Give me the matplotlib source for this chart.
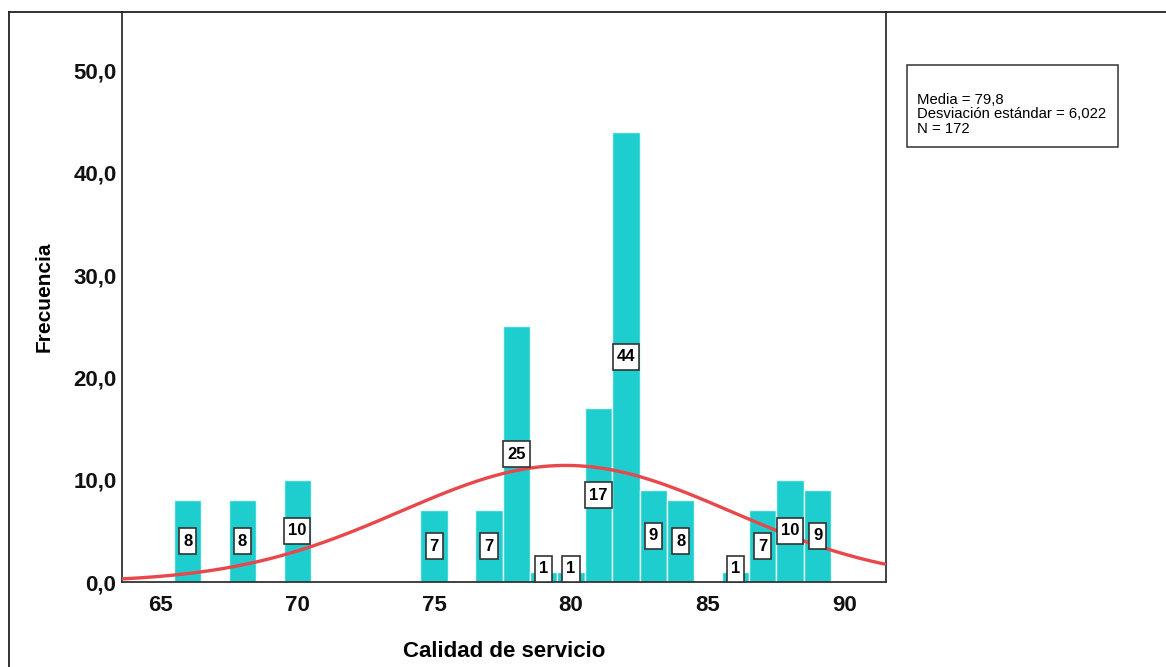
import numpy as np
import matplotlib.pyplot as plt
from matplotlib.lines import Line2D
from matplotlib.patches import Rectangle
from matplotlib.transforms import IdentityTransform

plt.rcParams['font.family'] = ['Liberation Sans', 'DejaVu Sans']

# puntaje de calidad de servicio y su frecuencia
valores = [66, 68, 70, 75, 77, 78, 79, 80, 81, 82, 83, 84, 86, 87, 88, 89]
frecuencias = [8, 8, 10, 7, 7, 25, 1, 1, 17, 44, 9, 8, 1, 7, 10, 9]
media = 79.8
desv = 6.022
n = 172
y_ticks = [0, 10, 20, 30, 40, 50]
x_ticks = [65, 70, 75, 80, 85, 90]

fig = plt.figure(figsize=(11.66, 6.67), dpi=100)
ax = fig.add_axes([0.1046, 0.1274, 0.6553, 0.8546])

ax.bar(valores, frecuencias, width=1.0, color='#1ECECE',
       edgecolor='#E8FAFA', linewidth=1.0, zorder=2)

# curva normal escalada a la frecuencia (ancho de intervalo = 1)
xs = np.linspace(63.6, 91.5, 400)
ys = n / (desv * np.sqrt(2 * np.pi)) * np.exp(-0.5 * ((xs - media) / desv) ** 2)
ax.plot(xs, ys, color='#E8474B', linewidth=2.4, zorder=3, solid_capstyle='butt')

ax.set_xlim(63.6, 91.5)
ax.set_ylim(0, 55.7)

etiquetas = []
for v, f in zip(valores, frecuencias):
    t = ax.text(v, max(f / 2, 1.3), str(f), ha='center', va='center',
                fontsize=12, fontweight='bold', zorder=5)
    etiquetas.append(t)

ax.set_xticks(x_ticks)
ax.set_yticks(y_ticks)
ax.set_yticklabels([f'{t:.1f}'.replace('.', ',') for t in y_ticks])
ax.tick_params(length=0, labelsize=16)
ax.tick_params(axis='y', pad=4)
ax.tick_params(axis='x', pad=9)
for lab in ax.get_xticklabels() + ax.get_yticklabels():
    lab.set_fontweight('bold')
    lab.set_color('#111111')

ax.spines['top'].set_visible(False)
for s in ['left', 'right', 'bottom']:
    ax.spines[s].set_color('#333333')
    ax.spines[s].set_linewidth(1.3)

ax.set_xlabel('Calidad de servicio', fontsize=16, fontweight='bold', labelpad=18)
ax.set_ylabel('Frecuencia', fontsize=15, fontweight='bold', labelpad=14)

# marco exterior
fig.add_artist(Line2D([0.008, 1.0], [0.982, 0.982], color='#222222', linewidth=1.3))
fig.add_artist(Line2D([0.008, 0.008], [0.0, 0.982], color='#222222', linewidth=1.3))

fig.text(0.7865, 0.829, f'Media = {media}'.replace('.', ',') + '\n'
         + f'Desviación estándar = {desv}'.replace('.', ',') + '\n'
         + f'N = {n}',
         fontsize=10.7, va='center', ha='left', linespacing=1.05)
fig.add_artist(plt.Rectangle((0.7779, 0.7796), 0.1810, 0.1229, transform=fig.transFigure,
                             fill=False, edgecolor='#333333', linewidth=1.1))

# cajas altas alrededor de las etiquetas de frecuencia (en pixeles)
fig.canvas.draw()
rend = fig.canvas.get_renderer()
for t in etiquetas:
    bb = t.get_window_extent(rend)
    cx, cy = ax.transData.transform(t.get_position())
    w = bb.width + 8
    h = 26
    ax.add_artist(Rectangle((cx - w / 2, cy - h / 2), w, h, transform=IdentityTransform(),
                            facecolor='white', edgecolor='#333333', linewidth=1.2,
                            zorder=4, clip_on=False))

fig.savefig('out.png', dpi=100)
